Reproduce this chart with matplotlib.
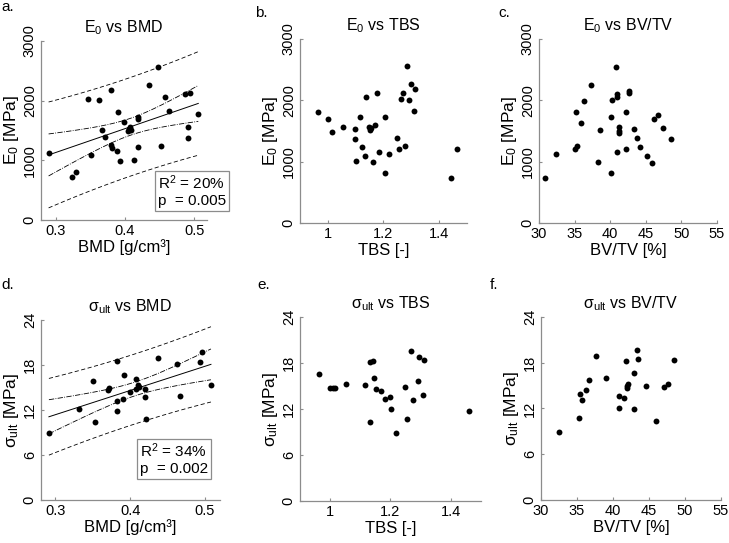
import numpy as np
import matplotlib
matplotlib.use("Agg")
import matplotlib.pyplot as plt

plt.rcParams["font.family"] = ["Liberation Sans", "DejaVu Sans"]
plt.rcParams["mathtext.fontset"] = "custom"
plt.rcParams["mathtext.rm"] = "Liberation Sans"
plt.rcParams["mathtext.default"] = "regular"

# --- data ---
# a. E0 vs BMD
bmd_a = [0.290, 0.3235, 0.330, 0.347, 0.351, 0.363, 0.3675, 0.371, 0.3795, 0.3795,
         0.381, 0.388, 0.390, 0.393, 0.398, 0.405, 0.4055, 0.4075, 0.4085, 0.4135,
         0.418, 0.418, 0.419, 0.4345, 0.448, 0.452, 0.458, 0.463, 0.486, 0.493,
         0.491, 0.491, 0.5055]
e0_a = [1123, 726, 810, 2022, 1089, 2017, 1508, 1385, 2179, 1263,
        1212, 1156, 1816, 994, 1637, 1492, 1531, 1564, 1508, 1006,
        1732, 1698, 1223, 2257, 2559, 1246, 2067, 1827, 2117, 2128,
        1559, 1380, 1777]

# b. E0 vs TBS
tbs_b = [0.966, 1.001, 1.016, 1.055, 1.097, 1.097, 1.101, 1.117, 1.121, 1.135,
         1.137, 1.147, 1.151, 1.154, 1.163, 1.171, 1.178, 1.184, 1.204, 1.204,
         1.220, 1.249, 1.257, 1.262, 1.271, 1.279, 1.285, 1.291, 1.298, 1.310,
         1.314, 1.442, 1.465]
e0_b = [1817, 1697, 1478, 1571, 1538, 1375, 1009, 1729, 1244, 1091,
        2062, 1566, 1517, 1544, 987, 1593, 2117, 1157, 1729, 818,
        1129, 1386, 1211, 2019, 2122, 1260, 2553, 2002, 2259, 1822,
        2177, 731, 1211]

# c. E0 vs BV/TV
bvtv_c = [30.8, 32.4, 35.0, 35.2, 35.4, 35.9, 36.3, 37.3, 38.3, 38.5,
          40.1, 40.2, 40.1, 40.8, 40.9, 41.0, 40.95, 41.2, 41.3, 41.3,
          42.2, 42.2, 42.6, 42.7, 43.4, 43.7, 44.2, 45.1, 45.9, 46.1,
          46.7, 47.4, 48.5]
e0_c = [726, 1124, 1211, 1817, 1255, 1626, 1991, 2248, 998, 1522,
        1724, 2008, 813, 2548, 2111, 2062, 1151, 1473, 1560, 1495,
        1806, 1200, 2122, 2160, 1527, 1380, 1238, 1086, 982, 1691,
        1762, 1555, 1369]

# d. sigma_ult vs BMD
bmd_d = [0.2916, 0.332, 0.350, 0.353, 0.370, 0.372, 0.382, 0.383, 0.383, 0.390,
         0.392, 0.400, 0.408, 0.408, 0.411, 0.412, 0.420, 0.420, 0.421, 0.437,
         0.462, 0.467, 0.494, 0.496, 0.508]
sult_d = [8.93, 12.09, 15.82, 10.44, 14.67, 14.89, 18.58, 13.24, 11.87, 13.42,
          16.71, 14.44, 16.13, 14.84, 15.33, 15.11, 14.80, 13.69, 10.76, 18.89,
          18.18, 13.91, 18.36, 19.78, 15.29]

# e. sigma_ult vs TBS
tbs_e = [0.963, 0.999, 1.010, 1.016, 1.052, 1.116, 1.132, 1.133, 1.143, 1.144,
         1.151, 1.169, 1.182, 1.200, 1.201, 1.217, 1.247, 1.254, 1.268, 1.276,
         1.290, 1.294, 1.308, 1.310, 1.461]
sult_e = [16.6, 14.74, 14.74, 14.74, 15.22, 15.13, 10.35, 18.13, 18.26, 16.0,
          14.57, 14.35, 13.35, 13.6, 12.0, 8.83, 14.87, 10.65, 19.6, 13.13,
          15.7, 18.78, 13.78, 18.43, 11.78]

# f. sigma_ult vs BV/TV
bvtv_f = [32.45, 35.23, 35.42, 35.65, 36.2, 36.67, 37.64, 38.98, 40.79, 40.79,
          41.57, 41.81, 41.9, 42.0, 42.04, 42.92, 42.96, 43.33, 43.47, 44.58,
          45.97, 47.08, 47.69, 48.47]
sult_f = [8.86, 10.69, 13.87, 13.17, 14.4, 15.75, 18.85, 16.06, 13.66, 12.09,
          13.39, 18.24, 14.66, 14.92, 15.23, 16.67, 11.87, 19.68, 18.5, 14.92,
          10.38, 14.79, 15.18, 18.32]

E_LABEL = "E$_0$ [MPa]"
S_LABEL = "\u03c3$_{ult}$ [MPa]"
BMD_LABEL = "BMD [g/cm\u00b3]"
stats_a = "R$^2$ = 20%\np  = 0.005"
stats_d = "R$^2$ = 34%\np  = 0.002"

# critical t values (95%) for n-2 degrees of freedom
T_CRIT = {31: 2.040, 23: 2.069}

GREY = "#8c8c8c"


def fit_bands(ax, x, y):
    x = np.asarray(x, float)
    y = np.asarray(y, float)
    n = len(x)
    b, a = np.polyfit(x, y, 1)
    res = y - (a + b * x)
    s = np.sqrt(np.sum(res ** 2) / (n - 2))
    t = T_CRIT[n - 2]
    xs = np.linspace(x.min(), x.max(), 100)
    yh = a + b * xs
    sxx = np.sum((x - x.mean()) ** 2)
    se_mean = s * np.sqrt(1 / n + (xs - x.mean()) ** 2 / sxx)
    se_pred = s * np.sqrt(1 + 1 / n + (xs - x.mean()) ** 2 / sxx)
    ax.plot(xs, yh, color="k", lw=0.7)
    for sgn in (1, -1):
        ax.plot(xs, yh + sgn * t * se_mean, color="k", lw=0.6, ls="-.")
        ax.plot(xs, yh + sgn * t * se_pred, color="k", lw=0.6, ls=(0, (5, 3)))


def style(ax, title, xlabel, ylabel, xlim, xticks, ylim, yticks):
    ax.set_xlim(xlim)
    ax.set_ylim(ylim)
    ax.set_xticks(xticks)
    ax.set_yticks(yticks)
    ax.set_xticklabels([f"{v:g}" for v in xticks])
    ax.set_yticklabels([f"{v:g}" for v in yticks], rotation=90, va="center")
    for side in ("top", "right"):
        ax.spines[side].set_visible(False)
    for side in ("left", "bottom"):
        ax.spines[side].set_color(GREY)
        ax.spines[side].set_linewidth(0.9)
    ax.tick_params(direction="in", length=2, color=GREY, labelsize=10.5, pad=3)
    ax.set_title(title, fontsize=11.5, pad=6)
    ax.set_xlabel(xlabel, fontsize=12, labelpad=1)
    ax.set_ylabel(ylabel, fontsize=12.5, labelpad=1)


fig = plt.figure(figsize=(7.29, 5.43), dpi=100)

ax_a = fig.add_axes([0.0562, 0.5948, 0.2277, 0.3297])
ax_b = fig.add_axes([0.4115, 0.5893, 0.2291, 0.3389])
ax_c = fig.add_axes([0.7394, 0.5893, 0.2442, 0.3389])
ax_d = fig.add_axes([0.0562, 0.0792, 0.2455, 0.3315])
ax_e = fig.add_axes([0.4115, 0.0773, 0.2483, 0.3389])
ax_f = fig.add_axes([0.7421, 0.0792, 0.2469, 0.3370])

dot = dict(s=18, color="k", zorder=3, linewidths=0)

fit_bands(ax_a, bmd_a, e0_a)
ax_a.scatter(bmd_a, e0_a, **dot)
style(ax_a, "E$_0$ vs BMD", BMD_LABEL, E_LABEL,
      (0.279, 0.518), [0.3, 0.4, 0.5], (0, 3000), [0, 1000, 2000, 3000])

ax_b.scatter(tbs_b, e0_b, **dot)
style(ax_b, "E$_0$ vs TBS", "TBS [-]", E_LABEL,
      (0.9, 1.5), [1, 1.2, 1.4], (0, 3000), [0, 1000, 2000, 3000])

ax_c.scatter(bvtv_c, e0_c, **dot)
style(ax_c, "E$_0$ vs BV/TV", "BV/TV [%]", E_LABEL,
      (30, 55), [30, 35, 40, 45, 50, 55], (0, 3000), [0, 1000, 2000, 3000])

fit_bands(ax_d, bmd_d, sult_d)
ax_d.scatter(bmd_d, sult_d, **dot)
style(ax_d, "\u03c3$_{ult}$ vs BMD", BMD_LABEL, S_LABEL,
      (0.281, 0.52), [0.3, 0.4, 0.5], (0, 24), [0, 6, 12, 18, 24])

ax_e.scatter(tbs_e, sult_e, **dot)
style(ax_e, "\u03c3$_{ult}$ vs TBS", "TBS [-]", S_LABEL,
      (0.9, 1.5), [1, 1.2, 1.4], (0, 24), [0, 6, 12, 18, 24])

ax_f.scatter(bvtv_f, sult_f, **dot)
style(ax_f, "\u03c3$_{ult}$ vs BV/TV", "BV/TV [%]", S_LABEL,
      (30, 55), [30, 35, 40, 45, 50, 55], (0, 24), [0, 6, 12, 18, 24])

box = dict(boxstyle="square,pad=0.2", facecolor="white", edgecolor=GREY, linewidth=0.9)
fig.text(158 / 729, 1 - 191 / 543, stats_a, fontsize=11, va="center", ha="left",
         linespacing=1.2, bbox=box)
fig.text(140 / 729, 1 - 459 / 543, stats_d, fontsize=11, va="center", ha="left",
         linespacing=1.2, bbox=box)

letters = [("a.", 1, 7), ("b.", 255, 13), ("c.", 498, 13),
           ("d.", 1, 285), ("e.", 257, 285), ("f.", 490, 285)]
for lab, px, py in letters:
    fig.text(px / 729, 1 - py / 543, lab, fontsize=11, va="center", ha="left")

fig.savefig("out.png", dpi=100)
